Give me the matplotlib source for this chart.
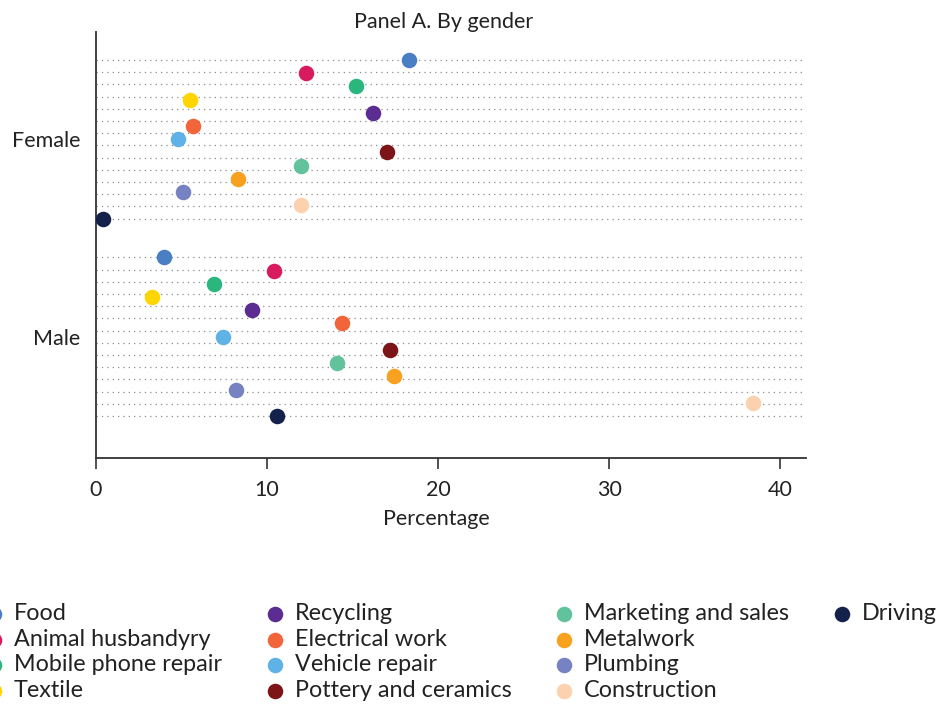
import numpy as np
import matplotlib
matplotlib.use("Agg")
import matplotlib.pyplot as plt
from matplotlib.lines import Line2D

plt.rcParams['font.family'] = ['Lato', 'DejaVu Sans']

# data: share of youth in each trade, by gender (percent)
categories = ["Food", "Animal husbandyry", "Mobile phone repair", "Textile",
              "Recycling", "Electrical work", "Vehicle repair", "Pottery and ceramics",
              "Marketing and sales", "Metalwork", "Plumbing", "Construction", "Driving"]
colors = ["#4a7fc4", "#d81b5f", "#2bb67e", "#ffd500",
          "#5b2c91", "#f2643a", "#5fb2e6", "#7d1418",
          "#62c29c", "#f7a11e", "#7682c2", "#fbd2ad", "#13214b"]
groups = ["Female", "Male"]
female = [18.3, 12.3, 15.2, 5.5, 16.2, 5.7, 4.8, 17.0, 12.0, 8.3, 5.1, 12.0, 0.4]
male = [4.0, 10.4, 6.9, 3.3, 9.1, 14.4, 7.4, 17.2, 14.1, 17.4, 8.2, 38.4, 10.6]
values = {"Female": female, "Male": male}
xticks = [0, 10, 20, 30, 40]

fig = plt.figure(figsize=(9.41, 7.09), dpi=100)
ax = fig.add_axes([0.102, 0.354, 0.7545, 0.601])

centers = {"Female": 1.0, "Male": 0.0}
half = 0.402
n = len(categories)
for g in groups:
    c = centers[g]
    # dotted guide rows
    for yy in np.linspace(c + half, c - half, n + 1):
        ax.axhline(yy, color="#8c8c8c", lw=0.9, ls=(0, (1, 3.3)), zorder=1)
    ys = np.linspace(c + half, c - half, n)
    for i, cat in enumerate(categories):
        ax.scatter(values[g][i], ys[i], s=125, color=colors[i], zorder=3,
                   linewidths=0, label=cat if g == "Female" else None)

ax.set_xlim(0, 41.5)
ax.set_ylim(-0.615, 1.544)
ax.set_yticks([centers[g] for g in groups])
ax.set_yticklabels(groups)
ax.set_xticks(xticks)
ax.tick_params(axis="y", length=0, pad=11, labelsize=15.5, colors="#222222")
ax.tick_params(axis="x", length=8, width=1.2, pad=8, labelsize=15.5,
               colors="#222222", color="#333333")
for s in ["top", "right"]:
    ax.spines[s].set_visible(False)
for s in ["left", "bottom"]:
    ax.spines[s].set_color("#333333")
    ax.spines[s].set_linewidth(1.3)

ax.set_title("Panel A. By gender", fontsize=15.5, pad=3, x=0.489, color="#222222")
ax.set_xlabel("Percentage", fontsize=15.5, labelpad=6, color="#222222")
ax.xaxis.set_label_coords(0.48, -0.12)

# legend: 4 x 4 grid, last column only has Driving
handles, labels = ax.get_legend_handles_labels()
blank = Line2D([], [], linestyle="none", marker=None)
handles = handles + [blank] * 3
labels = labels + [""] * 3
fig.legend(handles, labels, ncol=4, loc="upper left",
           bbox_to_anchor=(-0.016, 0.1495), frameon=False, fontsize=16.8,
           borderpad=0, borderaxespad=0, handlelength=0.8, handletextpad=0.45,
           columnspacing=1.86, labelspacing=0.2, scatterpoints=1,
           labelcolor="#222222")

fig.savefig("out.png", dpi=100)
